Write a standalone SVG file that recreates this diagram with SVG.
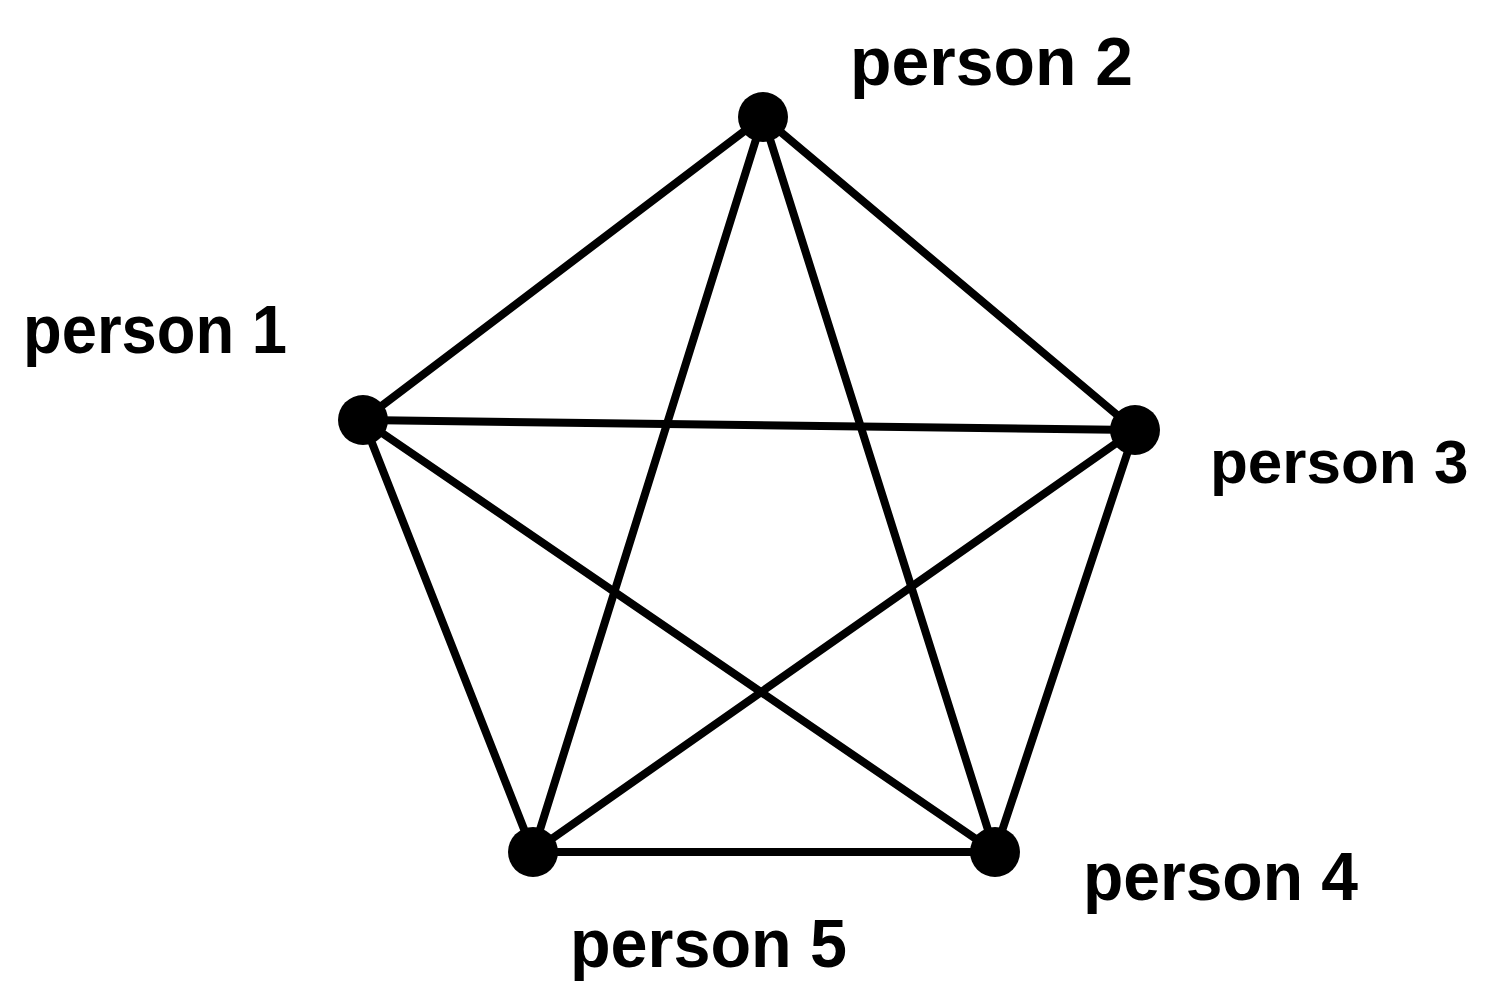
<svg xmlns="http://www.w3.org/2000/svg" width="1486" height="989" viewBox="0 0 1486 989">
<style>
.edge{stroke:#000;stroke-width:8;stroke-linecap:round;fill:none}
.node{fill:#000}
.lbl{font-family:"Liberation Sans",Arial,sans-serif;font-weight:bold;font-size:68px;fill:#000}
.lbl.sm{font-size:62px}
</style>
<rect width="1486" height="989" fill="#fff"/>
<g id="connectors">
<line class="edge" x1="363" y1="420" x2="763" y2="117"/>
<line class="edge" x1="763" y1="117" x2="1135" y2="430"/>
<line class="edge" x1="363" y1="420" x2="1135" y2="430"/>
<line class="edge" x1="763" y1="117" x2="533" y2="852"/>
<line class="edge" x1="763" y1="117" x2="995" y2="852"/>
<line class="edge" x1="363" y1="420" x2="533" y2="852"/>
<line class="edge" x1="363" y1="420" x2="995" y2="852"/>
<line class="edge" x1="1135" y1="430" x2="533" y2="852"/>
<line class="edge" x1="1135" y1="430" x2="995" y2="852"/>
<line class="edge" x1="533" y1="852" x2="995" y2="852"/>
</g>
<g id="person1"><circle class="node" cx="363" cy="420" r="25"/><text class="lbl" x="23" y="353" textLength="264" lengthAdjust="spacingAndGlyphs">person 1</text></g>
<g id="person2"><circle class="node" cx="763" cy="117" r="25"/><text class="lbl" x="850" y="85" textLength="283" lengthAdjust="spacingAndGlyphs">person 2</text></g>
<g id="person3"><circle class="node" cx="1135" cy="430" r="25"/><text class="lbl sm" x="1210" y="483">person 3</text></g>
<g id="person4"><circle class="node" cx="995" cy="852" r="25"/><text class="lbl" x="1083" y="900" textLength="275" lengthAdjust="spacingAndGlyphs">person 4</text></g>
<g id="person5"><circle class="node" cx="533" cy="852" r="25"/><text class="lbl" x="570" y="967" textLength="277" lengthAdjust="spacingAndGlyphs">person 5</text></g>
</svg>
